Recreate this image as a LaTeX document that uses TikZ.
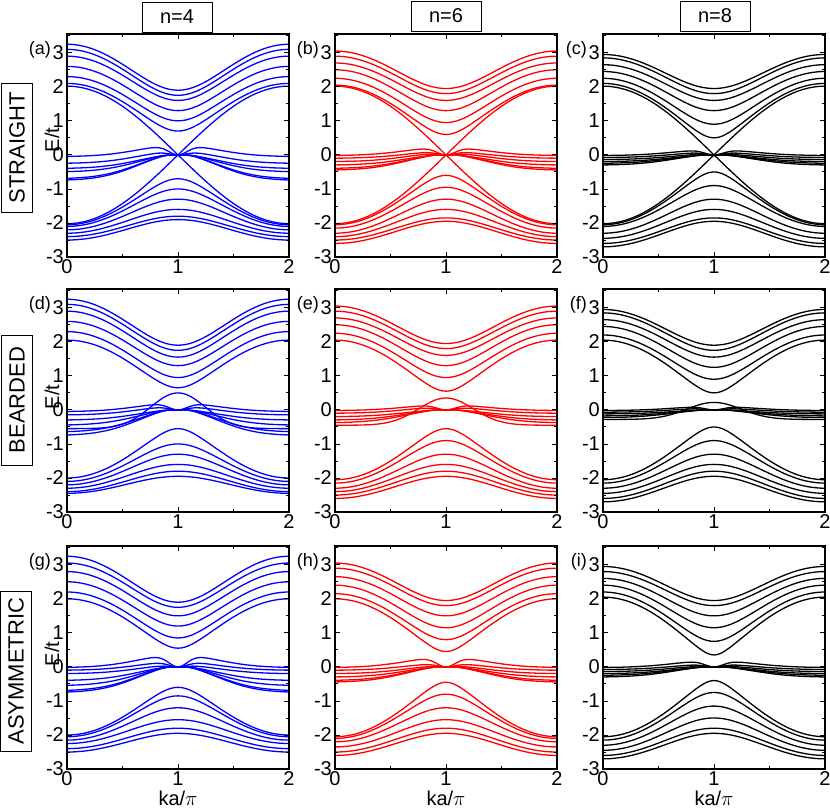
\documentclass[tikz,border=0pt]{standalone}
\usepackage{fontspec}
\setmainfont{Liberation Sans}
\begin{document}
\begin{tikzpicture}[x=1pt,y=1pt,
  band/.style={line width=1.3pt},
  frame/.style={line width=1.2pt},
  tick/.style={line width=0.9pt},
  lab/.style={font=\fontsize{20}{22}\selectfont, inner sep=1pt},
  plab/.style={font=\fontsize{18}{20}\selectfont, inner sep=1pt},
  hbox/.style={draw, line width=0.9pt, font=\fontsize{20}{22}\selectfont, minimum width=70pt, minimum height=30pt, inner sep=0pt},
  rbox/.style={draw, line width=0.9pt, rotate=90, font=\fontsize{22}{24}\selectfont, minimum height=31pt, inner sep=0pt}]
\useasboundingbox (0,0) rectangle (830,-807);
\newcommand\Cross{%
  \draw[band] plot[domain=0:2,samples=41] (\x,{2.02*cos(90*\x)});
  \draw[band] plot[domain=0:2,samples=41] (\x,{-2.02*cos(90*\x)});}
\newcommand\Extra[2]{%
  \draw[band] plot[domain=0:2,samples=61] (\x,{#1+(#2-(#1))*exp(-(\x-1)^2/0.12)});}
\newcommand\Pn[9]{%
\begin{scope}[shift={(#1,-#2-120.9)}, x=111pt, y=34.05pt]
  \begin{scope}
  \clip (0,-3) rectangle (2,3.55);
  \begin{scope}[#3]
  \foreach \m/\e in {#4}{\draw[band] plot[domain=0:2,samples=61] (\x,{sqrt(\m*\m+(\e*\e-\m*\m)*cos(90*\x)^2)});}
  \foreach \m/\e in {#5}{\draw[band] plot[domain=0:2,samples=61] (\x,{-sqrt(\m*\m+(\e*\e-\m*\m)*cos(90*\x)^2)});}
  \foreach \e/\b in {#6}{\draw[band] plot[domain=0:2,samples=81] (\x,{(\e+(\b-(\e))*exp(-(\x-1)^2/0.25))*(1-exp(-(\x-1)^2/0.015))});}
  #8
  \end{scope}
  \end{scope}
  \draw[frame] (0,-3) rectangle (2,3.55);
  \foreach \v in {-3,...,3}{\draw[tick] (0,\v) -- ++(5pt,0); \draw[tick] (2,\v) -- ++(-5pt,0);
    \node[lab,anchor=east] (ty#9\v) at ([xshift=-2pt]0,\v) {\v};}
  \foreach \v in {-2.5,-1.5,...,3.5}{\draw[tick] (0,\v) -- ++(3pt,0); \draw[tick] (2,\v) -- ++(-3pt,0);}
  \draw[tick] (1,-3) -- ++(0,5pt) (1,3.55) -- ++(0,-5pt);
  \foreach \u in {0.5,1.5}{\draw[tick] (\u,-3) -- ++(0,3pt) (\u,3.55) -- ++(0,-3pt);}
  \foreach \u in {0,1,2}{\node[lab,anchor=north] (tx#9\u) at ([yshift=-1pt]\u,-3) {\u};}
  \node[plab,anchor=east] (pl#9) at ([xshift=-15pt,yshift=3pt]0,3) {#7};
\end{scope}}
% row 1
\Pn{67}{34}{blue}{1.9/3.25,1.75/3.1,1.6/2.9,1.3/2.6,1.0/2.3,0.7/2.1}{0.7/2.05,1.0/2.1,1.3/2.2,1.6/2.3,1.8/2.4,1.9/2.5}{-0.05/0.28,-0.25/0.1,-0.4/0,-0.5/0,-0.7/0,-0.75/0}{(a)}{\Cross}{a}
\Pn{335}{34}{red}{1.95/3.05,1.8/2.9,1.6/2.7,1.3/2.5,0.95/2.25,0.6/2.05}{0.6/2.05,0.95/2.15,1.3/2.3,1.6/2.4,1.85/2.5,1.95/2.6}{-0.02/0.22,-0.1/0.1,-0.2/0.05,-0.3/0,-0.4/0,-0.45/0}{(b)}{\Cross}{b}
\Pn{603}{34}{black}{1.95/2.95,1.8/2.85,1.6/2.65,1.3/2.45,0.9/2.25,0.5/2.1}{0.5/2.05,0.9/2.1,1.3/2.3,1.6/2.45,1.85/2.6,1.95/2.7}{-0.02/0.15,-0.08/0.08,-0.14/0.03,-0.2/0,-0.25/0,-0.3/0}{(c)}{\Cross}{c}
% row 2
\Pn{67}{289}{blue}{1.9/3.25,1.75/3.1,1.55/2.9,1.3/2.6,0.95/2.3,0.65/2.05}{0.55/2.0,1.0/2.1,1.3/2.2,1.6/2.3,1.8/2.4,1.95/2.45}{-0.05/0.2,-0.15/0.1,-0.3/0,-0.45/0,-0.65/0,-0.75/0}{(d)}{\Extra{-0.55}{0.5}}{d}
\Pn{335}{289}{red}{1.95/3.05,1.8/2.9,1.6/2.7,1.3/2.5,0.95/2.25,0.55/2.05}{0.55/2.05,0.9/2.15,1.3/2.3,1.6/2.4,1.8/2.5,1.95/2.6}{-0.02/0.15,-0.1/0.08,-0.2/0,-0.3/0,-0.38/0}{(e)}{\Extra{-0.45}{0.35}}{e}
\Pn{603}{289}{black}{1.9/2.95,1.75/2.85,1.55/2.65,1.25/2.45,0.9/2.2,0.5/2.05}{0.5/2.05,0.9/2.15,1.3/2.3,1.6/2.45,1.8/2.6,1.95/2.7}{-0.02/0.1,-0.07/0.05,-0.12/0,-0.18/0,-0.23/0}{(f)}{\Extra{-0.28}{0.22}}{f}
% row 3
\Pn{67}{546}{blue}{1.9/3.25,1.75/3.05,1.5/2.8,1.2/2.5,0.85/2.2,0.55/2.0}{0.6/2.0,0.85/2.05,1.2/2.15,1.55/2.25,1.8/2.4,1.95/2.5}{-0.02/0.35,-0.1/0.15,-0.2/0.05,-0.4/0,-0.55/0,-0.7/0,-0.75/0}{(g)}{}{g}
\Pn{335}{546}{red}{1.95/3.05,1.8/2.9,1.5/2.65,1.15/2.4,0.8/2.15,0.45/2.0}{0.45/2.05,0.8/2.1,1.2/2.2,1.55/2.35,1.8/2.5,1.95/2.6}{-0.02/0.28,-0.1/0.1,-0.2/0.03,-0.3/0,-0.4/0,-0.45/0}{(h)}{}{h}
\Pn{603}{546}{black}{1.95/2.95,1.8/2.8,1.5/2.6,1.15/2.4,0.75/2.2,0.35/2.05}{0.4/2.05,0.75/2.15,1.15/2.3,1.5/2.45,1.8/2.6,1.95/2.7}{-0.02/0.18,-0.08/0.08,-0.14/0.03,-0.2/0,-0.25/0,-0.3/0}{(i)}{}{i}
% headers
\node[hbox] (h4) at (177,-17) {n=4};
\node[hbox] (h6) at (446,-16) {n=6};
\node[hbox] (h8) at (715,-16) {n=8};
\node[rbox, minimum width=129pt] (rs) at (17,-148) {STRAIGHT};
\node[rbox, minimum width=130pt] (rb) at (17,-400) {BEARDED};
\node[rbox, minimum width=160pt] (ra) at (16,-671) {ASYMMETRIC};
\foreach \yy/\nm in {-140/1,-397/2,-654/3}{\node[lab,rotate=90] (et\nm) at (52,\yy) {E/t};}
\foreach \xx/\nm in {178/1,446/2,714/3}{\node[lab,anchor=south,inner sep=0pt] (ka\nm) at (\xx,-806) {ka/$\pi$};}
\end{tikzpicture}
\end{document}
